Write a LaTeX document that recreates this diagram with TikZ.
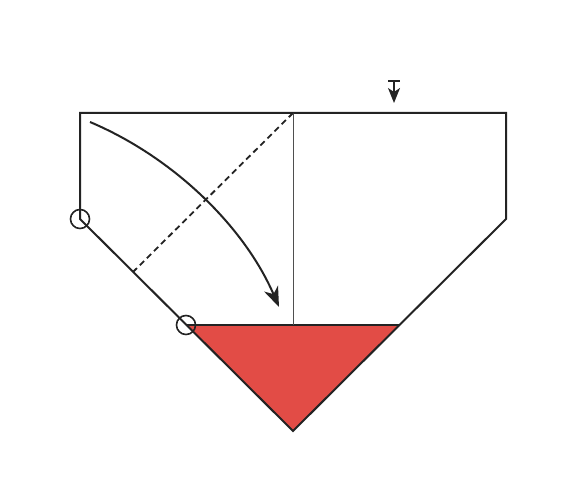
\documentclass[tikz,border=0pt]{standalone}
\usetikzlibrary{arrows.meta}
\definecolor{foldred}{RGB}{226,76,70}
\definecolor{ink}{RGB}{35,35,35}
\tikzset{
  edge/.style={draw=ink, line width=2pt, line join=miter},
  thin/.style={draw=ink!80, line width=1pt},
  valley/.style={draw=ink, line width=1.8pt, dash pattern=on 6pt off 4pt},
  pivot/.style={circle, draw=ink, line width=1.6pt, minimum size=19pt, inner sep=0pt},
  foldarrow/.style={draw=ink, line width=2pt, -{Stealth[length=20pt,width=15pt,inset=6pt]}},
  pusharrow/.style={draw=ink, line width=1.8pt, {Bar[width=12pt]}-{Stealth[length=15pt,width=12pt,inset=4pt]}}
}
\begin{document}
\begin{tikzpicture}[x=1pt,y=-1pt]
\useasboundingbox (0,0) rectangle (586,486);
% corners
\coordinate (tl) at (80,113);
\coordinate (tm) at (293,113);
\coordinate (tr) at (506,113);
\coordinate (lm) at (80,219);
\coordinate (rm) at (506,219);
\coordinate (bl) at (186,325);
\coordinate (bm) at (293,325);
\coordinate (br) at (400,325);
\coordinate (tip) at (293,431);
\coordinate (dd) at (133,272);
% red triangle
\fill[foldred] (bl) -- (br) -- (tip) -- cycle;
% outline
\draw[edge] (lm) -- (tl) -- (tr) -- (rm) -- (tip) -- cycle;
\draw[edge] (bl) -- (br);
% centre crease
\draw[thin] (tm) -- (bm);
% valley fold
\draw[valley] (tm) -- (dd);
% pivot circles
\node[pivot] (c1) at (lm) {};
\node[pivot] (c2) at (bl) {};
% fold arrow
\coordinate (as) at (90,122);
\coordinate (ae) at (279,307);
\draw[foldarrow] (as) .. controls (175,158) and (245,228) .. (ae);
% push arrow
\coordinate (ps) at (394,80);
\coordinate (pe) at (394,103);
\draw[pusharrow] (ps) -- (pe);
\end{tikzpicture}
\end{document}
